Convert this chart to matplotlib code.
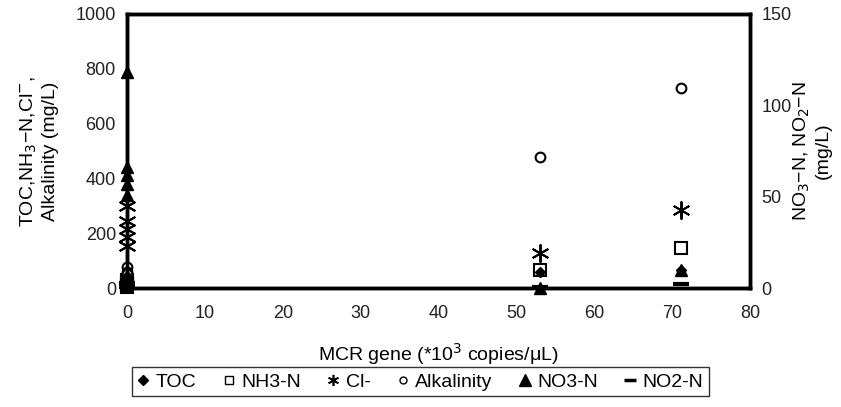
import matplotlib
matplotlib.use('Agg')
import matplotlib.pyplot as plt
from matplotlib.lines import Line2D

plt.rcParams['font.family'] = ['Liberation Sans', 'DejaVu Sans']

# MCR gene (*10^3 copies/uL) for each sample
mcr = [0, 0, 0, 0, 0, 53.0, 71.1]
# left axis (mg/L)
toc = [20, 35, 45, 25, 30, 58, 66]
nh3 = [20, 5, 30, 10, 15, 68, 148]
cl = [300, 245, 215, 185, 155, 128, 285]
alk = [77, 40, 30, 60, 50, 478, 730]
# right axis (mg/L)
no3 = [118, 66, 62, 57, 51, 0, 10]
no2 = [2, 1, 0.5, 1.5, 3, 0.5, 2.2]

fig = plt.figure(figsize=(8.41, 4.07), dpi=100)
ax = fig.add_axes([0.151, 0.292, 0.741, 0.674])
ax2 = ax.twinx()

ms = 7
ax.plot(mcr, toc, 'D', color='k', ms=5, clip_on=False, zorder=5)
ax.plot(mcr, nh3, 's', mfc='white', mec='k', mew=1.5, ms=ms + 2, clip_on=False, zorder=4)
ax.plot(mcr, cl, marker=(6, 2, 0), ls='none', color='k', mew=1.4, ms=ms + 6, clip_on=False, zorder=5)
ax.plot(mcr, alk, 'o', mfc='white', mec='k', mew=1.5, ms=ms, clip_on=False, zorder=4)
ax2.plot(mcr, no3, '^', color='k', ms=ms + 1, clip_on=False, zorder=5)
ax2.plot(mcr, no2, '_', color='k', mew=3, ms=ms + 4, clip_on=False, zorder=5)

ax.set_xlim(0, 80)
ax.set_ylim(0, 1000)
ax2.set_ylim(0, 150)
ax.set_xticks(range(0, 81, 10))
ax.set_yticks(range(0, 1001, 200))
ax2.set_yticks([0, 50, 100, 150])

for a in (ax, ax2):
    for s in a.spines.values():
        s.set_linewidth(2.5)
    a.tick_params(length=0, labelsize=13, pad=8, colors='#222222')
ax.tick_params(axis='x', pad=12)

ax.set_xlabel('MCR gene (*10$^3$ copies/μL)', fontsize=14, labelpad=14)
ax.set_ylabel('TOC,NH$_3$−N,Cl$^{-}$,\nAlkalinity (mg/L)', fontsize=14, labelpad=12)
ax2.set_ylabel('NO$_3$−N, NO$_2$−N\n(mg/L)', fontsize=14, labelpad=0)

handles = [
    Line2D([], [], ls='none', marker='D', color='k', ms=5),
    Line2D([], [], ls='none', marker='s', mfc='white', mec='k', mew=1, ms=6),
    Line2D([], [], ls='none', marker=(6, 2, 0), color='k', mew=1.2, ms=8),
    Line2D([], [], ls='none', marker='o', mfc='white', mec='k', mew=1, ms=5),
    Line2D([], [], ls='none', marker='^', color='k', ms=8),
    Line2D([], [], ls='none', marker='_', color='k', mew=2.5, ms=9),
]
labels = ['TOC', 'NH3-N', 'Cl-', 'Alkalinity', 'NO3-N', 'NO2-N']
leg = fig.legend(handles, labels, loc='center', bbox_to_anchor=(0.500, 0.062), ncol=6,
                 frameon=True, fancybox=False, edgecolor='k', fontsize=14,
                 handlelength=0.6, handletextpad=0.35, columnspacing=1.35,
                 borderpad=0.3)
leg.get_frame().set_linewidth(1)

fig.savefig('out.png', dpi=100)
